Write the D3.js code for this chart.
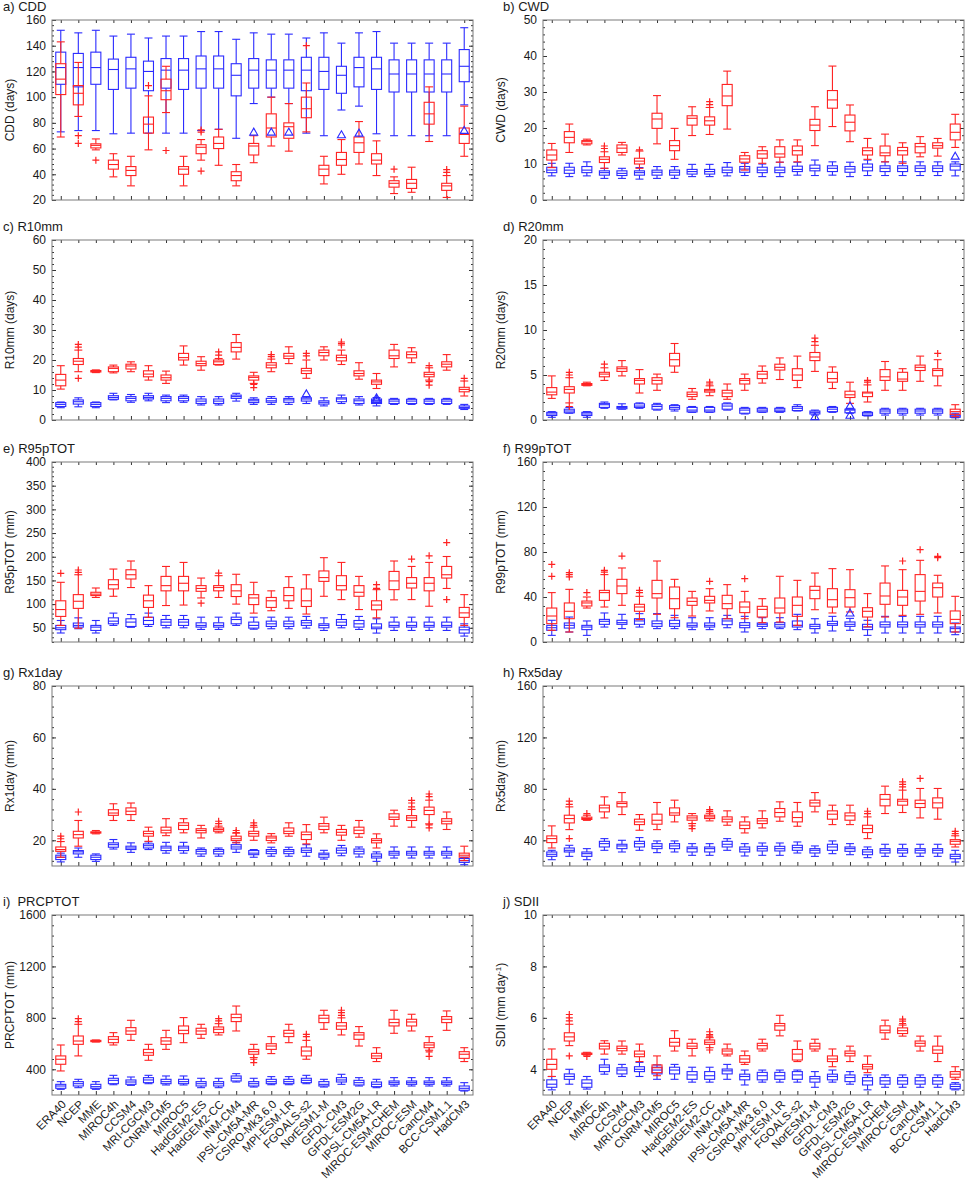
<!DOCTYPE html>
<html>
<head>
<meta charset="utf-8">
<script src="https://cdn.jsdelivr.net/npm/d3@7"></script>
<style>
body { margin: 0; background: #fff; }
text { font-family: "Liberation Sans", Arial, sans-serif; fill: #1a1a1a; }
</style>
</head>
<body>
<div id="chart"></div>
<script>

var models = ["ERA40","NCEP","MME","MIROC4h","CCSM4","MRI-CGCM3","CNRM-CM5","MIROC5","HadGEM2-ES","HadGEM2-CC",
  "INM-CM4","IPSL-CM5A-MR","CSIRO-Mk3.6.0","MPI-ESM-LR","FGOALS-s2","NorESM1-M","GFDL-CM3","GFDL-ESM2G",
  "IPSL-CM5A-LR","MIROC-ESM-CHEM","MIROC-ESM","CanCM4","BCC-CSM1.1","HadCM3"]

// box stats: [low whisker, q1, median, q3, high whisker]; outliers: [model index, value]

// a) CDD
var cddRed = [[69,102,114,126,143],[85,94,103,109,127],[59,60.5,62.5,63.7,67.5],[38,44,47.6,51,56],[31,39,43,46,54],
  [59,72,79,84.5,101],[88,98,105,114,124],[31,40,44,46,54],[51,56,61,63,67],[47,60,64,69,75],[31,35,39,42,47.6],
  [49,55,62,64,70],[62,69,76,87,100],[58,68,77,80,95],[73,84,91,100,111],[32.5,39,44,47,54],[40,47,51.5,57,67],
  [48,57,64.5,69,81],[39,48,51,56,66],[25,30,33,35,38],[26,29,33,36,45.5],[65.5,79,87,96,108],[22,27.5,31,33,39],
  [54,64,71,76,93]]
var cddRedOut = [[1,70],[1,64],[2,51],[5,109],[6,58.5],[8,74.5],[8,72.8],[8,42.5],[14,140],[19,44],[22,43.7],[22,41.5]]
var cddBlue = [[73,110,123,135,152],[74,108,123,134,150],[74,110,123,135,152],[71.5,106,121.5,129.6,147.5],
  [72,107,122,131,149],[72,105,120,128,146],[72,107,121,130,147.5],[72,106,121,130,147.5],[74,107,122,132,151],
  [75,107,122,132,151],[68,101,117,126,145],[95,107,121,130,150],[100,107,121,129,149],[95,107,121,129,149],
  [72,105,121,131,146],[70,106,120,131,150],[90,103,117,124,142],[93,108,123,131,150],[71.5,106,122,131,151],
  [70,104,118,129,142],[70,104,118,129,142],[70,104,118,129,142],[70,104,118,129,142],[94,112,124,137,154]]
var cddBlueOut = [[11,72.3],[12,72.3],[13,72.3],[16,70.2],[17,71.5],[23,73.6]]

// b) CWD
var cwdRed = [[9,11.1,12.5,13.9,15.7],[13.2,15.9,17.4,19,21.1],[15.3,15.6,16.2,16.5,16.9],[8.8,10.4,11.3,12,13.4],
  [12.5,13.2,14.4,15.3,16],[8.8,10,10.8,11.6,13.6],[15.6,19.9,22.5,24.1,29],[11.3,13.7,15.1,16.5,19.9],
  [17.9,20.8,22.7,23.4,25.9],[18.2,20.8,22,23.1,25.7],[19.7,26.2,28.9,32.1,35.8],[8.3,10.5,11.4,12.3,13.2],
  [10.2,11.6,12.8,13.7,14.8],[10.5,11.9,12.8,14.8,16.7],[10.6,12.5,13.7,15,16.7],[15.1,19.3,20.8,22.4,25.9],
  [20.4,25.5,27.8,30.4,37.2],[16.2,19.2,21.6,23.6,26.4],[11.3,12.5,13.7,14.5,17.1],[10.6,12.3,13.1,15,18.3],
  [10.2,12.5,13.7,14.6,15.9],[12,13.1,14.8,15.7,17.6],[12.2,14.4,15.1,15.9,17.1],[14.6,16.7,18.8,21.1,23.8]]
var cwdRedOut = [[3,15],[3,14.3],[5,13.9],[9,27.3],[9,26.5]]
var cwdBlue = [[6.7,7.6,8.3,9.1,10.2],[6.5,7.4,8.3,9.1,10.2],[6.7,7.6,8.3,9.3,10.6],[6,6.9,7.6,8.1,8.8],
  [6,6.8,7.4,8.1,8.8],[5.8,6.9,7.6,8.1,9],[6,6.9,7.7,8.3,9.3],[6,6.9,7.7,8.3,9.3],[6.5,7.2,7.9,8.5,9.9],
  [6.5,7.2,7.9,8.5,9.9],[6.7,7.6,8.3,9.1,10.4],[6.8,7.7,8.6,9.3,10.2],[6.5,7.6,8.3,9.1,10],[6.5,7.6,8.3,9.1,10.5],
  [6.9,7.9,8.5,9.4,10.5],[6.8,8.1,8.8,9.7,11.1],[6.9,7.9,8.8,9.5,10.6],[6.5,7.7,8.6,9.3,10.5],[6.8,8.1,9.1,10,11.1],
  [6.8,7.9,8.8,9.5,10.6],[6.8,7.9,8.8,9.5,10.6],[6.8,7.9,8.8,9.5,10.6],[6.8,7.9,8.8,9.5,10.6],[6.7,8.3,9.4,10,10.6]]
var cwdBlueOut = [[23,12]]

// c) R10mm
var r10Red = [[10.3,11.4,13.3,15.2,18.1],[16.1,18.5,19.6,20.5,23.3],[15.8,16,16.2,16.5,16.7],[15.7,16.1,17.2,17.7,18.3],
  [16.1,17,18,18.6,19.4],[13.3,14.4,15.3,16.4,18.1],[12.2,13.3,14.1,15,16.3],[18.3,20,20.8,22.2,24.7],
  [16.6,18.1,18.8,19.6,21.1],[18.3,18.5,19.4,20,20.5],[20.3,22.7,24.2,25.8,28.5],[12.2,13.3,14.2,14.7,15.9],
  [16.1,17.4,18.3,19.1,20.3],[18.8,20.5,21.3,22.2,24.4],[13.9,15.5,16.4,17.2,20],[20,21.4,22.5,23.3,24.4],
  [18.5,19.7,20.8,21.6,23.3],[13.6,14.7,15.5,16.4,19.1],[10.5,11.9,12.7,13.3,15.5],[17.7,20.5,21.4,23.3,25.2],
  [19.1,20.7,21.8,22.7,24.1],[13.3,14.4,15.2,15.9,17.4],[16.6,17.7,18.6,19.4,21.8],[8,9.4,10.2,10.9,13]]
var r10RedOut = [[1,25.2],[1,24.3],[1,13.9],[9,22.7],[9,21.6],[11,11.9],[11,10.8],[12,21.8],[12,21.1],[14,22.2],
  [14,21.4],[16,26],[16,25.5],[16,25],[21,18.1],[21,12.8],[21,11.6],[23,13.9]]
var r10Blue = [[4.1,4.5,5.2,5.8,6],[4.4,5.3,6.1,6.7,7.4],[4.1,4.5,5.2,5.8,6],[6.7,6.9,7.5,8.1,8.9],[5.9,6.4,7.2,7.8,8.5],
  [6.4,7,7.5,8.1,8.9],[5.8,6.4,7.2,7.8,8.3],[5.9,6.4,7.2,7.8,8.3],[5,5.5,6.3,7,7.8],[5,5.5,6.3,7,7.8],
  [6.3,7.2,7.8,8.3,8.9],[5.2,5.8,6.4,6.9,7.4],[5.2,5.9,6.4,7.2,7.8],[5.2,5.9,6.7,7.2,7.8],[5.5,6.3,7,7.4,7.8],
  [4.7,5.3,5.9,6.4,7.4],[5.5,6.1,7,7.4,8.3],[5,5.5,6.4,7,7.8],[4.7,5.5,6.3,7,7.5],[5.2,5.5,6.3,6.9,7.2],
  [5.2,5.5,6.3,6.9,7.2],[5.2,5.5,6.3,6.9,7.2],[5.2,5.5,6.3,6.9,7.2],[3.5,3.9,4.2,4.7,5.2]]
var r10BlueOut = [[14,8.5],[18,7.2],[18,6.6]]

// d) R20mm
var r20Red = [[2.4,2.8,3.1,3.6,4.9],[1.9,3,3.4,3.7,4.7],[3.8,3.85,3.95,4.05,4.2],[4.4,4.8,5.1,5.3,5.8],[4.9,5.4,5.7,5.9,6.6],
  [3,4,4.4,4.6,5.6],[3.3,4,4.4,4.7,5.1],[5.3,6,6.7,7.4,8.5],[2.3,2.6,2.85,3.1,3.5],[2.7,3.1,3.25,3.4,3.8],[2.3,2.6,3,3.3,4],
  [3.3,4,4.4,4.6,5.1],[4.1,4.6,5.1,5.4,6],[4.5,5.55,5.85,6.2,6.9],[3.6,4.4,5,5.7,7.1],[5.4,6.6,7,7.5,8.3],
  [3.5,4.2,4.6,5.3,5.9],[1.85,2.5,2.8,3.2,4.2],[2,2.6,3,3.1,3.9],[3.3,4.4,4.8,5.6,6.5],[3.3,4.3,4.55,5.3,5.7],
  [4.3,5.5,5.85,6.1,7.1],[3.8,4.9,5.5,5.7,6.7],[0.37,0.63,0.93,1.2,1.7]]
var r20RedOut = [[1,5.3],[1,5],[1,1.5],[3,6.2],[9,4.2],[9,4],[15,9.1],[15,8.7],[18,4.4],[18,4.2],[22,7.4]]
var r20Blue = [[0.3,0.5,0.67,0.85,0.93],[0.75,0.8,1,1.2,1.4],[0.3,0.5,0.67,0.85,0.93],[1.3,1.4,1.7,1.85,2],
  [1.2,1.25,1.4,1.5,1.8],[1.3,1.4,1.55,1.8,1.9],[1.1,1.2,1.5,1.7,1.85],[1,1.2,1.4,1.6,1.7],[0.85,0.9,1.1,1.4,1.5],
  [0.85,0.9,1.1,1.4,1.5],[1.1,1.2,1.55,1.8,1.9],[0.67,0.75,1.1,1.3,1.4],[0.85,0.9,1.1,1.3,1.4],[0.85,0.93,1.1,1.3,1.4],
  [1,1.05,1.3,1.5,1.7],[0.55,0.67,0.85,1,1.1],[0.85,0.93,1.2,1.4,1.5],[0.75,0.8,1.1,1.2,1.3],[0.45,0.5,0.67,0.85,0.93],
  [0.55,0.75,1,1.2,1.3],[0.55,0.75,1,1.2,1.3],[0.55,0.75,1,1.2,1.3],[0.55,0.75,1,1.2,1.3],[0.25,0.3,0.45,0.55,0.75]]
var r20BlueOut = [[15,0.3],[17,1.5],[17,0.45]]

// e) R95pTOT
var r95Red = [[55,74,88.5,107,146],[49,91,106,120,162],[114,118,121,125,134],[116.5,132,141,151.5,174],
  [135,153,162,172.5,191],[72,93,107,119,139],[97,128,139,158.5,179.5],[98,128,144,158.5,188],[113,127,133,139,155],
  [114,128,135,139,160],[100,116,128,141,163],[81,99,113,120,146],[86,93,107,114,128],[91,107,118,135,158],
  [79,95,107,132,162],[116.5,148,156,170,198],[109.5,130,139,160,188],[88.5,116.5,125,139,158.5],[71,88,98,107,130.5],
  [109,130.5,149,169,191],[109.5,134,144,156,179.5],[95.5,128,144,156,188],[133,155,162,179.5,200.5],[55,72,81.5,93,120]]
var r95RedOut = [[0,165],[1,172],[1,167],[8,102],[9,165.5],[18,141],[18,133.3],[20,195],[21,202],[22,230],[22,109.5]]
var r95Blue = [[39,46,50,55,65.4],[48,51.4,55,60,71],[39,44.4,51.4,55,65.4],[55,58.4,64,71,81],[51,52.8,62,69,78],
  [52.8,57,65.4,72.4,81],[50,55,62,67.5,76],[50,55,62,67.5,76],[46.5,51.4,55,60.5,72.4],[46.5,51.4,55,60.5,72.4],
  [55,58.4,67.5,72.4,81],[47,49.3,55,62,72.4],[48,52.8,58.4,64,72.4],[48,52.8,58.4,64,72.4],[49.3,55,60.5,65.4,74],
  [44.4,50,55,58.4,71],[50,55,62,67.5,78],[46.5,51.4,58.4,65.4,74],[38.8,48,51.4,58.4,69],[44.4,51.4,55,62,72.4],
  [44.4,51.4,55,62,72.4],[44.4,51.4,55,62,72.4],[44.4,51.4,55,62,72.4],[32.5,38.8,45.8,51.4,58.4]]
var r95BlueOut = []

// f) R99pTOT
var r99Red = [[10.4,16.3,23.1,30.2,43.9],[8.9,20.7,27.3,34.7,46.8],[30.2,32,34.7,36.4,40],[31.1,37,43.9,45.9,59.9],
  [32.6,43,49.8,55.7,65.8],[19.9,27.3,31.1,33.5,40.6],[24.6,39.1,43,54.8,72],[21.6,29.6,38.5,48.9,55.7],
  [23.1,32.6,36.1,39.1,45],[27.6,34.7,37,40.6,47.4],[20.7,29.6,34.1,41.5,51],[20.7,26.1,31.1,35.6,45],
  [17.2,22.2,29,31.7,38.5],[17.8,25.8,30.2,39.1,58.4],[14.8,22.8,32.6,40,54.8],[28.7,38.5,45.9,49.5,61.3],
  [25.8,31.1,37.6,47.4,65.2],[26.7,31.1,39.4,46.5,64.3],[13.5,22.2,27.3,30.5,43],[22.2,33.5,40.9,52.4,67.6],
  [23.7,32.6,40,45.9,64.3],[24.6,36.4,45,59.9,72.6],[25.8,40,48.3,52.4,59.3],[8.9,16.3,20.1,27.6,40.6]]
var r99RedOut = [[0,69],[0,58.4],[1,61.6],[1,59.9],[1,57.8],[2,43.9],[3,63.7],[3,62.2],[4,76.4],[5,45.9],[5,43.9],
  [9,53.9],[11,56.3],[20,72],[21,82.1],[22,76.1],[22,75]]
var r99Blue = [[5.9,10.4,12.7,14.8,19.3],[8.9,12.4,14.8,16.9,22.2],[5.9,11,13.3,14.8,18.7],[13.3,15.7,18.4,20.1,25.8],
  [11.9,15.7,17.2,19.3,24.6],[13.3,15.7,18.7,20.7,25.2],[11.9,13.9,16.3,18.7,25.2],[11.9,13.9,16.3,19.3,23.7],
  [11,13.3,14.8,16.9,21.6],[11,13.3,14.8,16.9,21.6],[12.7,15.4,18.7,20.7,23.7],[8.9,12.7,14.8,17.2,22.8],
  [11.9,13.9,15.7,16.9,21.6],[11.9,13.3,15.4,17.2,21.6],[11,13.3,14.8,18.7,24.6],[8,11.9,13.9,15.7,20.7],
  [9.8,14.8,16.3,18.4,22.8],[10.4,13.9,15.7,17.8,21],[5.9,11,13.3,15.7,19.3],[8,13.3,15.4,17.8,22.8],
  [8,13.3,15.4,17.8,22.8],[8,13.3,15.4,17.8,22.8],[8,13.3,15.4,17.8,22.8],[6.5,8.9,11.9,13.3,16.9]]
var r99BlueOut = [[17,25.2]]

// g) Rx1day
var rx1Red = [[13.4,15.7,16.4,17.4,19.5],[17.7,20.9,22.2,23.5,27.7],[22.5,22.8,23,23.3,23.8],[27.7,29.7,30.6,31.9,34.2],
  [27.7,30,31.3,32.6,34.5],[19.6,21.6,22.6,23.5,25.1],[21.8,22.9,23.9,25.1,28.4],[22.9,24.2,25.8,26.8,28.4],
  [20.9,22.9,23.8,24.5,25.8],[22.9,23.5,24.2,24.8,25.5],[19,19.9,20.6,21.6,22.8],[20,21.6,22.6,23.5,25.1],
  [19,19.9,20.9,21.6,22.6],[21.6,22.6,23.5,24.8,26.8],[18.6,20.3,22.2,23.2,26.1],[22.9,24.2,25.5,26.5,29],
  [20,22,23.1,24.2,25.8],[21.2,22.6,23.9,25.1,27.7],[17,19,19.9,20.6,22.5],[25.5,28.1,29,30.3,31.7],
  [25.1,27.7,28.7,29.6,32],[26.4,30,31.6,32.9,35.6],[24.2,26.4,27.4,28.4,31],[12.1,13.4,14.2,15,17.7]]
var rx1RedOut = [[0,21.6],[0,20.6],[1,31],[9,27.4],[9,26.5],[10,23.8],[10,23],[11,26.8],[11,25.8],[20,35.5],[20,34.5],
  [20,33],[21,38],[21,37],[21,26],[21,24.8]]
var rx1Blue = [[11.6,12.5,13.4,14.2,15],[13.4,14.7,15.5,16,17],[11.8,12.5,13.4,14.2,14.7],[16.6,17.3,18.3,19,20.3],
  [15.3,16.4,17,17.7,19],[16.4,17,17.9,18.6,19.4],[15,16,17,17.7,19.2],[15,16,17,17.7,19.2],[13.8,14.7,15.7,16.4,17],
  [13.8,14.7,15.7,16.4,17],[15.3,16.6,17.4,18.3,19.2],[13.4,14.4,15,16,16.4],[13.8,14.8,15.7,16.4,17.3],
  [13.8,14.8,15.7,16.4,17.3],[13.8,15.3,16.1,17,18.3],[12.7,13.4,14.4,15,16.1],[14,15,16.1,17,18],
  [13.5,14.7,15.7,16.6,17.4],[11.8,13.1,13.8,14.7,15.5],[13.1,14.2,15,15.7,17.4],[13.1,14.2,15,15.7,17.4],
  [13.1,14.2,15,15.7,17.4],[13.1,14.2,15,15.7,17.4],[10.5,11.4,12.1,12.9,13.4]]
var rx1BlueOut = []

// h) Rx5day
var rx5Red = [[34,38.2,41.3,43.4,51.2],[48.3,53.5,56.9,59.5,66],[55.5,56.2,57,58,59.5],[57.4,62.1,65.2,67.3,73.8],
  [60,66,68.6,69.9,77.1],[47.8,52.2,54.3,56.4,60],[48.3,52.5,55.6,60.3,69.4],[54.3,59.5,61.3,65.2,71.2],
  [53,55.6,57.4,59,60.8],[55.1,56.9,58.2,59.5,61],[51.7,54.3,56.4,58.2,62.9],[45.7,49.1,51.7,54.3,58.2],
  [49.6,53,55.1,56.9,62.9],[54.8,58.2,61.6,64.7,69.9],[50.9,54.3,57.7,62.1,69.4],[62.1,66.5,69.1,71.2,77.1],
  [52.2,56.4,60.3,62.9,67.3],[52.2,55.6,59,61.3,67.3],[41.3,46,49.1,51.7,58.2],[60.8,66.8,71.9,75.6,82.1],
  [61.6,67.3,70.4,71.9,79],[57.4,65.5,68.6,71.2,80.3],[56.4,65.2,69.1,73,80.3],[34.8,36.9,39.2,40.5,43.5]]
var rx5RedOut = [[1,70.4],[1,68],[1,41.3],[2,60.8],[8,51.2],[8,49.1],[9,63.9],[9,62.5],[18,62.6],[18,60.8],
  [20,85.5],[20,83.5],[20,81.5],[21,88.1],[23,47],[23,45.2]]
var rx5Blue = [[24.9,27.5,29.1,30.9,32.2],[27.5,30.9,32.2,34,36.1],[24.9,27.5,29.6,30.9,33.5],[32.2,34.8,37.4,39.2,41.3],
  [30.9,33.5,35.6,36.9,40],[32.2,34.8,37.4,39.2,42.1],[30.4,33.5,35.3,37.4,39.5],[30.9,33.5,35.6,37.4,39.5],
  [28.3,30.9,33.5,34.8,37.4],[28.3,30.9,33.5,34.8,37.4],[32.2,34.8,36.9,39.2,41.3],[27.8,30.9,33,34.8,37.4],
  [28.3,31.7,33.5,35.3,37.9],[28.3,31.7,33.5,35.3,37.9],[30.1,32.2,34.3,36.1,38.7],[27.5,30.1,32.2,33.5,35.6],
  [29.6,32.2,34.8,36.9,39.5],[28.8,31.4,33.5,34.8,37.4],[26.5,28.8,30.9,32.7,34.8],[27.5,30.1,32.2,33.5,36.9],
  [27.5,30.1,32.2,33.5,36.9],[27.5,30.1,32.2,33.5,36.9],[27.5,30.1,32.2,33.5,36.9],[23.1,25.7,27.5,29.1,32.2]]
var rx5BlueOut = []

// i) PRCPTOT
var prcpRed = [[387,439,478,504,589],[504,594,620,659,750],[612,615,620,625,628],[589,607,633,654,685],
  [625,672,698,724,781],[470,509,529,555,594],[555,594,620,646,703],[607,677,703,737,802],[641,672,698,719,750],
  [667,685,711,729,755],[698,771,802,828,892],[491,517,537,555,594],[522,555,581,599,654],[607,654,680,703,750],
  [478,504,542,574,625],[711,763,797,820,859],[667,711,737,763,800],[581,633,667,685,732],[460,485,504,524,568],
  [680,737,763,789,859],[698,737,768,789,828],[548,568,589,607,654],[703,763,789,810,854],[460,485,517,537,568]]
var prcpRedOut = [[1,794],[1,771],[9,794],[9,776],[11,478],[11,452],[14,672],[14,654],[16,859],[16,841],[16,820],
  [21,535],[21,500]]
var prcpBlue = [[244,252,270,283,304],[257,270,288,304,322],[244,252,265,283,304],[280,288,314,330,353],
  [275,283,301,317,340],[288,296,317,335,353],[278,288,304,322,348],[278,288,304,322,348],[257,270,288,304,330],
  [257,270,288,304,330],[301,309,330,348,366],[262,270,288,304,330],[280,288,304,322,343],[280,288,304,322,343],
  [288,296,314,330,353],[262,270,283,304,322],[283,301,317,335,361],[270,278,296,314,335],[257,265,283,301,322],
  [270,283,296,309,335],[270,283,296,309,335],[270,283,296,309,335],[270,283,296,309,335],[231,237,252,270,296]]
var prcpBlueOut = []

// j) SDII
var sdiiRed = [[3.72,4,4.19,4.39,4.79],[4.92,5.1,5.26,5.42,5.75],[4.55,4.58,4.6,4.63,4.66],[4.59,4.79,4.9,5.01,5.11],
  [4.59,4.72,4.81,4.9,5.1],[4.3,4.49,4.59,4.71,4.98],[3.75,3.87,4.06,4.17,4.52],[4.71,4.9,5.05,5.2,5.5],
  [4.52,4.81,4.9,5.01,5.17],[4.84,4.97,5.05,5.14,5.23],[4.52,4.59,4.71,4.79,4.98],[4.19,4.27,4.4,4.53,4.71],
  [4.71,4.79,4.92,5.01,5.17],[5.3,5.52,5.69,5.78,6.1],[4.3,4.36,4.59,4.77,5.1],[4.71,4.79,4.9,5.01,5.17],
  [4.1,4.3,4.4,4.52,4.79],[4.3,4.52,4.62,4.71,4.9],[3.87,4.01,4.1,4.19,4.52],[5.17,5.42,5.52,5.69,5.91],
  [5.29,5.39,5.5,5.61,5.72],[4.71,4.9,5.01,5.1,5.29],[4.3,4.62,4.75,4.9,5.29],[3.61,3.69,3.81,3.91,4.1]]
var sdiiRedOut = [[1,6.13],[1,6.0],[1,5.88],[1,4.52],[2,4.5],[9,5.46],[9,5.35],[9,5.29],[9,4.75],[20,5.95],[20,5.87],[20,5.78]]
var sdiiBlue = [[3.2,3.3,3.42,3.59,3.72],[3.42,3.61,3.72,3.82,4],[3.23,3.3,3.46,3.59,3.72],[3.81,3.91,4.08,4.17,4.39],
  [3.72,3.82,3.97,4.06,4.19],[3.72,3.91,4,4.1,4.27],[3.61,3.82,3.97,4.08,4.17],[3.61,3.82,3.97,4.08,4.19],
  [3.5,3.61,3.78,3.91,4.08],[3.5,3.61,3.75,3.91,4.08],[3.61,3.82,3.94,4.01,4.19],[3.39,3.59,3.72,3.81,3.97],
  [3.5,3.59,3.75,3.88,3.97],[3.5,3.61,3.75,3.88,3.97],[3.5,3.61,3.78,3.91,3.97],[3.3,3.5,3.63,3.72,3.91],
  [3.5,3.59,3.72,3.81,3.97],[3.42,3.52,3.68,3.78,3.91],[3.2,3.39,3.55,3.68,3.78],[3.3,3.42,3.55,3.68,3.78],
  [3.3,3.42,3.55,3.68,3.78],[3.3,3.42,3.55,3.68,3.78],[3.3,3.42,3.55,3.68,3.78],[3.2,3.24,3.33,3.42,3.48]]
var sdiiBlueOut = []

// axis ranges and tick labels
var cddTicks = [20,40,60,80,100,120,140,160]
var cwdTicks = [0,10,20,30,40,50]
var r10Ticks = [0,10,20,30,40,50,60]
var r20Ticks = [0,5,10,15,20]
var r95Ticks = [50,100,150,200,250,300,350,400]
var r99Ticks = [0,40,80,120,160]
var rx1Ticks = [20,40,60,80]
var rx5Ticks = [40,80,120,160]
var prcpTicks = [400,800,1200,1600]
var sdiiTicks = [4,6,8,10]

var panels = [
  {title:"a) CDD", ylab:"CDD (days)", dom:[20,160], ticks:cddTicks, red:cddRed, redOut:cddRedOut, blue:cddBlue, blueOut:cddBlueOut},
  {title:"b) CWD", ylab:"CWD (days)", dom:[0,50], ticks:cwdTicks, red:cwdRed, redOut:cwdRedOut, blue:cwdBlue, blueOut:cwdBlueOut},
  {title:"c) R10mm", ylab:"R10mm (days)", dom:[0,60], ticks:r10Ticks, red:r10Red, redOut:r10RedOut, blue:r10Blue, blueOut:r10BlueOut},
  {title:"d) R20mm", ylab:"R20mm (days)", dom:[0,20], ticks:r20Ticks, red:r20Red, redOut:r20RedOut, blue:r20Blue, blueOut:r20BlueOut},
  {title:"e) R95pTOT", ylab:"R95pTOT (mm)", dom:[20,400], ticks:r95Ticks, red:r95Red, redOut:r95RedOut, blue:r95Blue, blueOut:r95BlueOut},
  {title:"f) R99pTOT", ylab:"R99pTOT (mm)", dom:[0,160], ticks:r99Ticks, red:r99Red, redOut:r99RedOut, blue:r99Blue, blueOut:r99BlueOut},
  {title:"g) Rx1day", ylab:"Rx1day (mm)", dom:[10,80], ticks:rx1Ticks, red:rx1Red, redOut:rx1RedOut, blue:rx1Blue, blueOut:rx1BlueOut},
  {title:"h) Rx5day", ylab:"Rx5day (mm)", dom:[20,160], ticks:rx5Ticks, red:rx5Red, redOut:rx5RedOut, blue:rx5Blue, blueOut:rx5BlueOut},
  {title:"i)  PRCPTOT", ylab:"PRCPTOT (mm)", dom:[200,1600], ticks:prcpTicks, red:prcpRed, redOut:prcpRedOut, blue:prcpBlue, blueOut:prcpBlueOut},
  {title:"j) SDII", ylab:"SDII (mm day", sup:"-1", dom:[3,10], ticks:sdiiTicks, red:sdiiRed, redOut:sdiiRedOut, blue:sdiiBlue, blueOut:sdiiBlueOut}
]

var width = 967, height = 1183
var pw = 421, ph = 180
var colX = [52, 543], rowY = [20, 240, 462, 686, 915]
var redC = "#ff2222", blueC = "#2b2bff"

var svg = d3.select("#chart").append("svg")
    .attr("width", width).attr("height", height)

function drawBoxes(g, x, y, stats, color) {
  var b = g.append("g").selectAll("g")
    .data(stats)
    .enter().append("g")
      .attr("transform", function(d, i) { return "translate(" + x(models[i]) + ",0)" })
      .attr("stroke", color).attr("stroke-width", 1.1).attr("fill", "none")

  // whiskers
  b.append("line").attr("x1", 0).attr("x2", 0)
    .attr("y1", function(d) { return y(d[0]) }).attr("y2", function(d) { return y(d[1]) })
  b.append("line").attr("x1", 0).attr("x2", 0)
    .attr("y1", function(d) { return y(d[3]) }).attr("y2", function(d) { return y(d[4]) })
  // caps
  b.append("line").attr("x1", -4).attr("x2", 4)
    .attr("y1", function(d) { return y(d[0]) }).attr("y2", function(d) { return y(d[0]) })
  b.append("line").attr("x1", -4).attr("x2", 4)
    .attr("y1", function(d) { return y(d[4]) }).attr("y2", function(d) { return y(d[4]) })
  // box
  b.append("rect").attr("x", -5).attr("width", 10)
    .attr("y", function(d) { return y(d[3]) })
    .attr("height", function(d) { return Math.max(0.5, y(d[1]) - y(d[3])) })
  // median
  b.append("line").attr("x1", -5).attr("x2", 5)
    .attr("y1", function(d) { return y(d[2]) }).attr("y2", function(d) { return y(d[2]) })
}

panels.forEach(function(p, k) {
  var px = colX[k % 2], py = rowY[Math.floor(k / 2)]

  var x = d3.scalePoint().domain(models).range([0, pw]).padding(0.5)
  var y = d3.scaleLinear().domain(p.dom).range([ph, 0])

  var step = p.ticks[1] - p.ticks[0], m = step / 5
  var minor = d3.range(Math.ceil(p.dom[0] / m - 1e-9) * m, p.dom[1] + 1e-9, m)

  var g = svg.append("g").attr("transform", "translate(" + px + "," + py + ")")

  // minor ticks left / right
  g.append("g")
    .call(d3.axisLeft(y).tickValues(minor).tickSize(-2).tickFormat(""))
  g.append("g").attr("transform", "translate(" + pw + ",0)")
    .call(d3.axisRight(y).tickValues(minor).tickSize(-2).tickFormat(""))

  // major y ticks
  g.append("g").attr("class", "yaxis")
    .call(d3.axisLeft(y).tickValues(p.ticks).tickSizeInner(-4).tickSizeOuter(0).tickPadding(6)
      .tickFormat(function(d) { return String(d) }))
  g.append("g").attr("transform", "translate(" + pw + ",0)")
    .call(d3.axisRight(y).tickValues(p.ticks).tickSizeInner(-4).tickSizeOuter(0).tickFormat(""))

  // category ticks top / bottom
  g.append("g").call(d3.axisTop(x).tickSize(-3).tickFormat(""))
  g.append("g").attr("transform", "translate(0," + ph + ")")
    .call(d3.axisBottom(x).tickSize(-4).tickFormat(""))

  g.selectAll(".domain").remove()
  g.selectAll(".tick line").attr("stroke", "#333")
  g.selectAll(".yaxis text").attr("font-size", 12).attr("font-family", "Liberation Sans, Arial, sans-serif").attr("fill", "#1a1a1a")

  // frame
  g.append("rect").attr("width", pw).attr("height", ph)
    .attr("fill", "none").attr("stroke", "#7a7a7a").attr("stroke-width", 1)

  drawBoxes(g, x, y, p.blue, blueC)
  drawBoxes(g, x, y, p.red, redC)

  // outliers
  g.append("g").selectAll("path")
    .data(p.blueOut)
    .enter().append("path")
      .attr("d", d3.symbol(d3.symbolTriangle).size(28))
      .attr("transform", function(d) { return "translate(" + x(models[d[0]]) + "," + y(d[1]) + ")" })
      .attr("fill", "none").attr("stroke", blueC).attr("stroke-width", 1.1)
  g.append("g").selectAll("path")
    .data(p.redOut)
    .enter().append("path")
      .attr("d", "M-3.5,0H3.5M0,-3.5V3.5")
      .attr("transform", function(d) { return "translate(" + x(models[d[0]]) + "," + y(d[1]) + ")" })
      .attr("fill", "none").attr("stroke", redC).attr("stroke-width", 1.2)

  // titles
  g.append("text")
    .attr("x", (k % 2 ? 503 : 3) - px).attr("y", -9)
    .attr("font-size", 13).style("white-space", "pre")
    .text(p.title)

  var yl = g.append("text")
    .attr("text-anchor", "middle")
    .attr("font-size", 12)
    .attr("transform", "translate(" + (-38) + "," + (ph / 2) + ")rotate(-90)")
    .text(p.ylab)
  if (p.sup) {
    yl.append("tspan").attr("baseline-shift", "super").attr("font-size", 8).text(p.sup)
    yl.append("tspan").text(")")
  }

  // model names under bottom row
  if (k >= 8) {
    g.append("g").selectAll("text")
      .data(models)
      .enter().append("text")
        .attr("text-anchor", "end")
        .attr("font-size", 11.5)
        .attr("transform", function(d) { return "translate(" + (x(d) + 6) + "," + (ph + 10) + ")rotate(-45)" })
        .text(function(d) { return d })
  }
})

</script>
</body>
</html>
